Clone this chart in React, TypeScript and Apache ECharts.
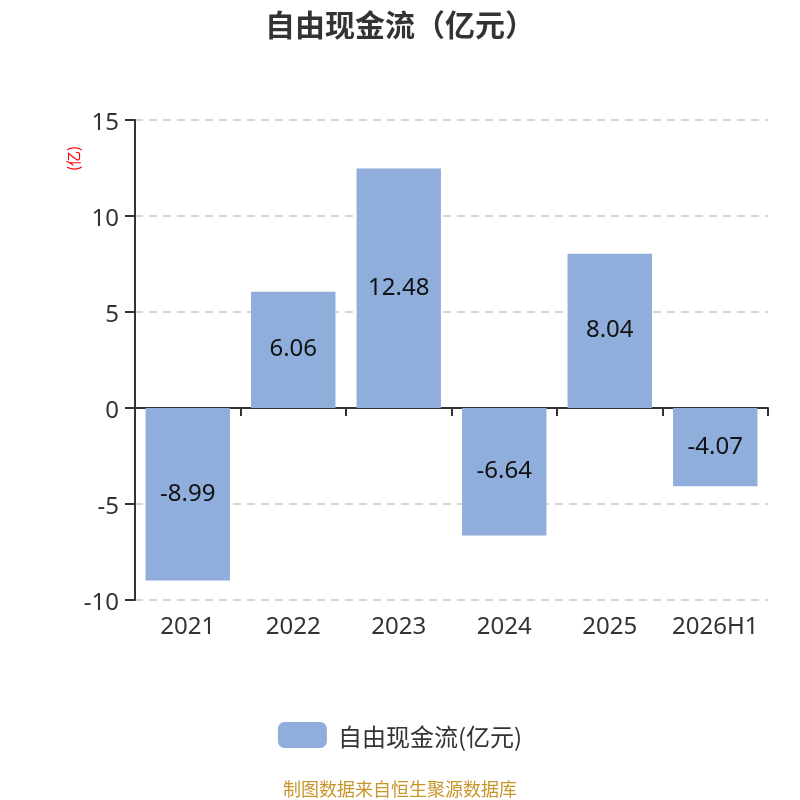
import React, { useEffect, useRef } from "react";
import * as echarts from "echarts";

const categories = ["2021", "2022", "2023", "2024", "2025", "2026H1"];
const values = [-8.99, 6.06, 12.48, -6.64, 8.04, -4.07];
const seriesName = "自由现金流(亿元)";
const titleText = "自由现金流（亿元）";
const unitText = "(亿)";
const footerText = "制图数据来自恒生聚源数据库";

export default function App() {
  const ref = useRef<HTMLDivElement>(null);
  useEffect(() => {
    if (!ref.current) return;
    const chart = echarts.init(ref.current, null, { renderer: "svg" });
    const font = "'Noto Sans', 'Noto Sans CJK SC', sans-serif";
    const cjk = "'Noto Sans CJK SC', sans-serif";
    chart.setOption({
      animation: false,
      title: {
        text: titleText,
        left: "center",
        top: 3,
        textStyle: { fontSize: 30, fontWeight: "bold", color: "#333", fontFamily: cjk },
      },
      grid: { left: 135, right: 32, top: 120, bottom: 200, containLabel: false },
      legend: {
        top: 717,
        left: "center",
        itemWidth: 49,
        itemHeight: 26,
        icon: "roundRect",
        textStyle: { fontSize: 24, color: "#333", fontFamily: cjk, padding: [0, 0, 0, 6] },
        data: [seriesName],
      },
      xAxis: [
        {
          type: "category",
          data: categories,
          position: "bottom",
          axisLine: { show: false, onZero: false },
          axisTick: { show: false },
          axisLabel: { fontSize: 24, color: "#333", margin: 12, fontFamily: font, interval: 0 },
        },
        {
          type: "category",
          data: categories,
          position: "bottom",
          axisLine: { show: true, onZero: true, lineStyle: { color: "#333", width: 2 } },
          axisTick: { show: true, length: 8, interval: 0, lineStyle: { color: "#333", width: 2 } },
          axisLabel: { show: false },
        },
      ],
      yAxis: {
        type: "value",
        min: -10,
        max: 15,
        interval: 5,
        axisLine: { show: true, lineStyle: { color: "#333", width: 2 } },
        axisTick: { show: true, length: 10, lineStyle: { color: "#333", width: 2 } },
        axisLabel: { fontSize: 24, color: "#333", margin: 16, fontFamily: font },
        splitLine: { show: true, lineStyle: { type: [8, 6], color: "#ccc", width: 1.5 } },
      },
      graphic: [
        {
          type: "text",
          x: 65,
          y: 171,
          rotation: Math.PI / 2,
          style: { text: unitText, fill: "#ff0000", fontSize: 15, fontFamily: cjk },
        },
        {
          type: "text",
          left: "center",
          top: 779,
          style: { text: footerText, fill: "#c8952a", fontSize: 18, fontFamily: cjk },
        },
      ],
      series: [
        {
          name: seriesName,
          type: "bar",
          data: values,
          barWidth: "80%",
          itemStyle: { color: "#8FAEDB" },
          label: {
            show: true,
            position: "inside",
            offset: [0, -3],
            fontSize: 24,
            color: "#111",
            fontFamily: font,
          },
        },
      ],
    });
    return () => chart.dispose();
  }, []);
  return <div ref={ref} style={{ position: "fixed", left: 0, top: 0, width: 800, height: 800 }} />;
}
